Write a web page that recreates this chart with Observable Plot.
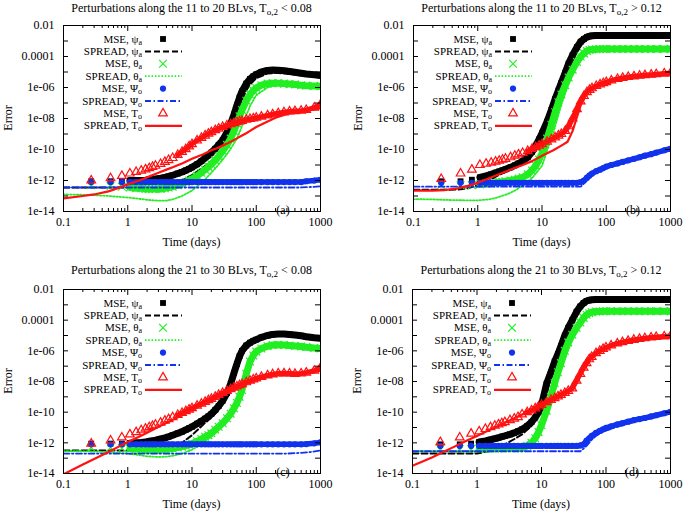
<!DOCTYPE html>
<html><head><meta charset="utf-8">
<script src="https://cdn.jsdelivr.net/npm/d3@7"></script>
<script src="https://cdn.jsdelivr.net/npm/@observablehq/plot@0.6"></script>
<style>
body{margin:0;background:#fff;}
#root{position:relative;width:685px;height:512px;overflow:hidden;background:#fff;}
#root svg{position:absolute;}
</style></head><body><div id="root"></div>
<script>
// ---------- axes ----------
const xTicks = [0.1, 1, 10, 100, 1000];
const xTickLabels = ["0.1", "1", "10", "100", "1000"];
const xMinorTicks = [0.2,0.3,0.4,0.5,0.6,0.7,0.8,0.9,2,3,4,5,6,7,8,9,20,30,40,50,60,70,80,90,200,300,400,500,600,700,800,900];
const yTicks = [1e-2, 1e-4, 1e-6, 1e-8, 1e-10, 1e-12, 1e-14];
const yTickLabels = ["0.01", "0.0001", "1e-06", "1e-08", "1e-10", "1e-12", "1e-14"];
const yDecades = [1e-2,1e-3,1e-4,1e-5,1e-6,1e-7,1e-8,1e-9,1e-10,1e-11,1e-12,1e-13,1e-14];

// ---------- titles / legend ----------
const panelBLVs = ["11 to 20", "11 to 20", "21 to 30", "21 to 30"];
const panelThreshold = ["< 0.08", "> 0.12", "< 0.08", "> 0.12"];
const panelLetters = ["(a)", "(b)", "(c)", "(d)"];
const legendLabels = ["MSE, \u03c8", "SPREAD, \u03c8", "MSE, \u03b8", "SPREAD, \u03b8", "MSE, \u03a8", "SPREAD, \u03a8", "MSE, T", "SPREAD, T"];
const legendSubs = ["a", "a", "a", "a", "o", "o", "o", "o"];

// ---------- sample times (days) ----------
const mseTimes = [0.27,0.54,0.81,1.08,1.35,1.62,1.89,2.16,2.43,2.7,3.24,3.78,4.32,5,6,7,8,9,10,12,14,16,18,20,23,26,30,35,40,45,50,55,60,70,80,90,100,120,150,180,220,270,330,400,500,600,800,1000];
const spreadTimes = [0.1,0.2,0.3,0.5,0.7,1,1.5,2,3,4,5,7,10,15,20,25,30,35,40,50,60,70,80,100,150,200,300,500,700,1000];

// ---------- values: log10(error) ----------
// panel (a)
const aMsePsiA = [-12.05,-12.05,-12.05,-12.0,-12.0,-12.0,-11.98,-11.95,-11.93,-11.9, -11.85,-11.8,-11.74,-11.66,-11.55,-11.45,-11.35,-11.25,-11.15, -10.95,-10.75,-10.55,-10.38,-10.2,-9.95,-9.7,-9.4,-8.9,-8.35, -7.75,-7.15,-6.65,-6.25,-5.75,-5.45,-5.28,-5.15, -5.0,-4.9,-4.87,-4.88,-4.92,-4.97,-5.02,-5.08,-5.13,-5.18,-5.22];
const aSprPsiA = [-12.45,-12.45,-12.45,-12.45,-12.45,-12.45,-12.45,-12.43,-12.4,-12.35,-12.25,-12.0,-11.65,-11.15,-10.75,-10.35,-9.95,-9.4,-8.8,-7.6,-6.8,-6.2,-5.8,-5.4,-5.1,-5.05,-5.1,-5.2,-5.25,-5.3];
const aMseThetaA = [-12.3,-12.35,-12.4,-12.45,-12.5,-12.5,-12.55,-12.55,-12.55,-12.55, -12.55,-12.5,-12.45,-12.4,-12.3,-12.2,-12.1,-12.0,-11.9, -11.7,-11.5,-11.3,-11.12,-10.95,-10.7,-10.45,-10.1,-9.7,-9.3, -8.8,-8.3,-7.85,-7.45,-6.85,-6.45,-6.2,-6.02, -5.85,-5.75,-5.72,-5.72,-5.75,-5.78,-5.8,-5.85,-5.88,-5.9,-5.92];
const aSprThetaA = [-12.9,-12.92,-12.95,-13.0,-13.05,-13.1,-13.18,-13.25,-13.3,-13.3,-13.22,-13.0,-12.65,-12.05,-11.5,-11.05,-10.65,-10.3,-9.95,-9.3,-8.5,-7.8,-7.2,-6.5,-6.0,-5.85,-5.85,-5.9,-5.95,-6.0];
const aMsePsiO = [-12.1,-12.1,-12.1,-12.1,-12.1,-12.1,-12.1,-12.1,-12.1,-12.1, -12.1,-12.1,-12.1,-12.1,-12.1,-12.1,-12.1,-12.1,-12.1, -12.1,-12.1,-12.1,-12.1,-12.1,-12.1,-12.1,-12.1,-12.1,-12.1, -12.1,-12.1,-12.1,-12.1,-12.1,-12.1,-12.1,-12.1, -12.1,-12.1,-12.1,-12.1,-12.1,-12.1,-12.1,-12.1,-12.05,-12.0,-11.95];
const aSprPsiO = [-12.45,-12.45,-12.45,-12.45,-12.45,-12.45,-12.45,-12.45,-12.45,-12.45,-12.45,-12.45,-12.45,-12.45,-12.45,-12.45,-12.45,-12.45,-12.45,-12.45,-12.45,-12.45,-12.45,-12.45,-12.45,-12.45,-12.45,-12.45,-12.42,-12.38];
const aMseTo = [-12.0,-11.85,-11.7,-11.55,-11.45,-11.36,-11.28,-11.2,-11.12,-11.05, -10.93,-10.8,-10.68,-10.55,-10.35,-10.15,-9.98,-9.8,-9.65, -9.42,-9.25,-9.1,-8.98,-8.88,-8.75,-8.65,-8.55,-8.45,-8.37, -8.3,-8.24,-8.19,-8.15,-8.08,-8.03,-7.99,-7.95, -7.88,-7.8,-7.73,-7.66,-7.6,-7.55,-7.52,-7.5,-7.45,-7.3,-7.1];
const aSprTo = [-13.15,-13.0,-12.9,-12.7,-12.5,-12.25,-12.0,-11.8,-11.5,-11.3,-11.15,-10.9,-10.6,-10.3,-10.05,-9.9,-9.75,-9.62,-9.5,-9.28,-9.1,-8.95,-8.8,-8.55,-8.2,-7.95,-7.7,-7.55,-7.45,-7.35];

// panel (b)
const bMsePsiA = [-12.05,-12.05,-11.95,-11.8,-11.7,-11.6,-11.5,-11.42,-11.35,-11.28, -11.15,-11.02,-10.9,-10.75,-10.5,-10.15,-9.75,-9.35,-8.95, -8.2,-7.45,-6.75,-6.2,-5.7,-5.05,-4.45,-3.9,-3.4,-3.05, -2.87,-2.75,-2.69,-2.66,-2.65,-2.65,-2.65,-2.65, -2.65,-2.65,-2.65,-2.65,-2.65,-2.65,-2.65,-2.65,-2.65,-2.65,-2.65];
const bSprPsiA = [-12.6,-12.6,-12.6,-12.58,-12.5,-12.3,-12.0,-11.7,-11.35,-11.1,-10.9,-10.3,-9.2,-7.0,-5.8,-4.8,-4.0,-3.45,-3.1,-2.75,-2.67,-2.65,-2.65,-2.65,-2.65,-2.65,-2.65,-2.65,-2.65,-2.65];
const bMseThetaA = [-12.3,-12.3,-12.3,-12.25,-12.2,-12.2,-12.15,-12.1,-12.1,-12.05, -12.0,-11.95,-11.88,-11.8,-11.6,-11.35,-11.05,-10.65,-10.25, -9.3,-8.4,-7.6,-6.95,-6.45,-5.85,-5.35,-4.85,-4.35,-4.0, -3.8,-3.65,-3.58,-3.55,-3.53,-3.52,-3.52,-3.52, -3.52,-3.52,-3.52,-3.52,-3.52,-3.52,-3.52,-3.52,-3.52,-3.52,-3.52];
const bSprThetaA = [-13.2,-13.22,-13.25,-13.27,-13.28,-13.28,-13.22,-13.1,-12.85,-12.6,-12.3,-11.85,-11.05,-8.9,-7.1,-5.95,-5.1,-4.55,-4.2,-3.75,-3.6,-3.55,-3.53,-3.52,-3.52,-3.52,-3.52,-3.52,-3.52,-3.52];
const bMsePsiO = [-12.15,-12.15,-12.15,-12.15,-12.15,-12.15,-12.15,-12.15,-12.15,-12.15, -12.15,-12.15,-12.15,-12.15,-12.15,-12.15,-12.15,-12.15,-12.15, -12.15,-12.15,-12.15,-12.15,-12.15,-12.15,-12.15,-12.15,-12.15,-12.1, -12.0,-11.82,-11.67,-11.55,-11.4,-11.3,-11.2,-11.1, -11.0,-10.9,-10.8,-10.7,-10.6,-10.5,-10.4,-10.3,-10.2,-10.05,-9.95];
const bSprPsiO = [-12.4,-12.4,-12.4,-12.4,-12.4,-12.4,-12.4,-12.4,-12.4,-12.4,-12.4,-12.4,-12.4,-12.4,-12.4,-12.4,-12.4,-12.4,-12.4,-12.0,-11.7,-11.5,-11.38,-11.2,-11.0,-10.85,-10.65,-10.4,-10.22,-10.05];
const bMseTo = [-11.9,-11.55,-11.3,-11.0,-10.92,-10.85,-10.78,-10.72,-10.66,-10.6, -10.5,-10.4,-10.32,-10.22,-10.1,-9.97,-9.85,-9.75,-9.65, -9.5,-9.35,-9.22,-9.1,-9.0,-8.8,-8.5,-8.0,-7.4,-6.9, -6.55,-6.3,-6.15,-6.05,-5.9,-5.8,-5.72,-5.65, -5.55,-5.45,-5.38,-5.32,-5.28,-5.24,-5.2,-5.17,-5.14,-5.1,-5.07];
const bSprTo = [-12.65,-12.65,-12.62,-12.5,-12.35,-12.15,-11.85,-11.65,-11.35,-11.15,-11.0,-10.75,-10.4,-10.05,-9.75,-9.5,-8.8,-7.9,-7.15,-6.4,-6.1,-5.95,-5.85,-5.7,-5.5,-5.4,-5.3,-5.2,-5.15,-5.1];

// panel (c)
const cMsePsiA = [-12.05,-12.05,-12.05,-12.02,-12.0,-11.98,-11.95,-11.9,-11.87,-11.83, -11.75,-11.68,-11.6,-11.5,-11.38,-11.27,-11.15,-11.05,-10.95, -10.75,-10.58,-10.42,-10.27,-10.12,-9.85,-9.6,-9.25,-8.75,-8.15, -7.45,-6.85,-6.35,-6.0,-5.65,-5.47,-5.35,-5.27, -5.12,-5.0,-4.93,-4.9,-4.9,-4.93,-4.97,-5.02,-5.08,-5.15,-5.18];
const cSprPsiA = [-12.5,-12.5,-12.5,-12.5,-12.5,-12.5,-12.5,-12.5,-12.5,-12.45,-12.35,-12.0,-11.5,-10.8,-10.35,-9.95,-9.5,-9.0,-8.4,-7.0,-6.1,-5.75,-5.55,-5.35,-5.05,-4.95,-4.95,-5.05,-5.12,-5.2];
const cMseThetaA = [-12.3,-12.3,-12.35,-12.38,-12.4,-12.42,-12.45,-12.45,-12.45,-12.45, -12.45,-12.42,-12.4,-12.37,-12.3,-12.25,-12.18,-12.12,-12.05, -11.9,-11.75,-11.6,-11.5,-11.38,-11.15,-10.95,-10.72,-10.4,-10.1, -9.75,-9.4,-9.0,-8.55,-7.5,-6.7,-6.3,-6.05, -5.85,-5.7,-5.62,-5.6,-5.62,-5.65,-5.68,-5.72,-5.76,-5.82,-5.85];
const cSprThetaA = [-12.55,-12.55,-12.57,-12.6,-12.65,-12.7,-12.8,-12.88,-12.92,-12.9,-12.85,-12.7,-12.45,-12.0,-11.6,-11.2,-10.9,-10.6,-10.3,-9.6,-8.8,-7.8,-7.0,-6.2,-5.8,-5.7,-5.7,-5.75,-5.8,-5.85];
const cMsePsiO = [-12.1,-12.1,-12.1,-12.1,-12.1,-12.1,-12.1,-12.1,-12.1,-12.1, -12.1,-12.1,-12.1,-12.1,-12.1,-12.1,-12.1,-12.1,-12.1, -12.1,-12.1,-12.1,-12.1,-12.1,-12.1,-12.1,-12.1,-12.1,-12.1, -12.1,-12.1,-12.1,-12.1,-12.1,-12.1,-12.1,-12.1, -12.1,-12.1,-12.1,-12.1,-12.1,-12.1,-12.1,-12.1,-12.08,-12.03,-11.97];
const cSprPsiO = [-12.7,-12.7,-12.7,-12.7,-12.7,-12.7,-12.7,-12.7,-12.7,-12.7,-12.7,-12.7,-12.7,-12.7,-12.7,-12.7,-12.7,-12.7,-12.7,-12.7,-12.7,-12.7,-12.7,-12.7,-12.7,-12.7,-12.7,-12.65,-12.6,-12.5];
const cMseTo = [-12.05,-11.85,-11.65,-11.45,-11.3,-11.18,-11.08,-10.98,-10.9,-10.82, -10.68,-10.55,-10.45,-10.33,-10.18,-10.05,-9.93,-9.83,-9.74, -9.58,-9.45,-9.33,-9.22,-9.13,-9.0,-8.88,-8.75,-8.62,-8.5, -8.4,-8.32,-8.24,-8.17,-8.05,-7.95,-7.87,-7.8, -7.7,-7.6,-7.53,-7.48,-7.47,-7.48,-7.5,-7.48,-7.42,-7.3,-7.1];
const cSprTo = [-14.05,-13.42,-13.05,-12.6,-12.28,-11.95,-11.6,-11.35,-10.95,-10.7,-10.5,-10.2,-9.85,-9.5,-9.25,-9.05,-8.9,-8.78,-8.65,-8.45,-8.3,-8.18,-8.08,-7.92,-7.7,-7.58,-7.52,-7.52,-7.45,-7.3];

// panel (d)
const dMsePsiA = [-12.1,-12.1,-12.05,-11.95,-11.88,-11.8,-11.73,-11.67,-11.6,-11.55, -11.45,-11.35,-11.25,-11.12,-10.9,-10.65,-10.35,-10.0,-9.55, -8.15,-7.4,-6.7,-6.2,-5.7,-5.0,-4.5,-4.0,-3.45,-3.1, -2.88,-2.75,-2.7,-2.67,-2.65,-2.65,-2.65,-2.65, -2.65,-2.65,-2.65,-2.65,-2.65,-2.65,-2.65,-2.65,-2.65,-2.65,-2.65];
const dSprPsiA = [-12.7,-12.7,-12.7,-12.7,-12.7,-12.7,-12.55,-12.35,-12.0,-11.7,-11.45,-10.9,-9.9,-7.3,-5.9,-4.9,-4.1,-3.5,-3.15,-2.78,-2.68,-2.65,-2.65,-2.65,-2.65,-2.65,-2.65,-2.65,-2.65,-2.65];
const dMseThetaA = [-12.4,-12.4,-12.4,-12.38,-12.38,-12.37,-12.37,-12.36,-12.36,-12.35, -12.35,-12.35,-12.35,-12.35,-12.2,-12.0,-11.7,-11.3,-10.85, -9.9,-9.0,-8.1,-7.4,-6.8,-6.0,-5.45,-4.95,-4.5,-4.15, -3.85,-3.65,-3.55,-3.48,-3.44,-3.43,-3.42,-3.42, -3.42,-3.42,-3.42,-3.42,-3.42,-3.42,-3.42,-3.42,-3.42,-3.42,-3.42];
const dSprThetaA = [-12.55,-12.55,-12.55,-12.55,-12.55,-12.55,-12.55,-12.55,-12.5,-12.35,-12.2,-11.8,-11.0,-8.8,-7.2,-6.1,-5.3,-4.8,-4.35,-3.8,-3.55,-3.47,-3.44,-3.42,-3.42,-3.42,-3.42,-3.42,-3.42,-3.42];
const dMsePsiO = [-12.2,-12.2,-12.2,-12.2,-12.2,-12.2,-12.2,-12.2,-12.2,-12.2, -12.2,-12.2,-12.2,-12.2,-12.2,-12.2,-12.2,-12.2,-12.2, -12.2,-12.2,-12.2,-12.2,-12.2,-12.2,-12.2,-12.2,-12.2,-12.17, -12.1,-11.85,-11.7,-11.55,-11.35,-11.22,-11.12,-11.03, -10.92,-10.8,-10.72,-10.62,-10.52,-10.45,-10.38,-10.28,-10.2,-10.07,-9.98];
const dSprPsiO = [-12.55,-12.55,-12.55,-12.55,-12.55,-12.55,-12.55,-12.55,-12.55,-12.55,-12.55,-12.55,-12.55,-12.55,-12.55,-12.55,-12.55,-12.55,-12.55,-12.2,-11.8,-11.55,-11.4,-11.2,-10.95,-10.8,-10.6,-10.4,-10.22,-10.05];
const dMseTo = [-11.95,-11.65,-11.4,-11.25,-11.1,-10.98,-10.88,-10.8,-10.72,-10.65, -10.52,-10.42,-10.32,-10.15,-10.0,-9.88,-9.75,-9.63,-9.52, -9.35,-9.2,-9.08,-8.97,-8.87,-8.75,-8.62,-8.45,-7.95,-7.5, -7.1,-6.8,-6.55,-6.4,-6.15,-6.0,-5.88,-5.78, -5.65,-5.52,-5.43,-5.35,-5.28,-5.22,-5.18,-5.13,-5.1,-5.06,-5.03];
const dSprTo = [-13.5,-12.95,-12.6,-12.15,-11.85,-11.55,-11.2,-10.95,-10.6,-10.35,-10.15,-9.85,-9.55,-9.2,-8.95,-8.7,-8.45,-8.0,-7.55,-6.85,-6.45,-6.2,-6.05,-5.82,-5.58,-5.45,-5.3,-5.17,-5.1,-5.05];

// ---------- styling ----------
const FONT = "Liberation Serif, Times New Roman, serif";
const C_BLACK = "#000000", C_GREEN = "#22ee22", C_BLUE = "#1133ee", C_RED = "#ff1111";
const seriesStyles = [
  {color: C_BLACK, symbol: "square",   r: 3.3, filled: true,  band: 7,   bandFrom: 1, dash: "6,3",           lw: 2},
  {color: C_GREEN, symbol: "times",    r: 3.6, filled: false, band: 7,   bandFrom: 1, dash: "1.5,1.8",       lw: 1.8},
  {color: C_BLUE,  symbol: "circle",   r: 3.1, filled: true,  band: 5.5, bandFrom: 1, dash: "6,2.5,1.5,2.5", lw: 1.8},
  {color: C_RED,   symbol: "triangle", r: 3.2, filled: false, band: 5,   bandFrom: 6, dash: null,            lw: 2.2}
];
const d3Symbols = {square: d3.symbolSquare, times: d3.symbolTimes, circle: d3.symbolCircle, triangle: d3.symbolTriangle};

const panels = [
  {left: 0,   top: 0,   width: 342, height: 256, mL: 63, mR: 22, mT: 25, mB: 45, titleGap: 13,
   mse: [aMsePsiA, aMseThetaA, aMsePsiO, aMseTo], spr: [aSprPsiA, aSprThetaA, aSprPsiO, aSprTo]},
  {left: 342, top: 0,   width: 343, height: 256, mL: 71, mR: 15, mT: 25, mB: 45, titleGap: 13,
   mse: [bMsePsiA, bMseThetaA, bMsePsiO, bMseTo], spr: [bSprPsiA, bSprThetaA, bSprPsiO, bSprTo]},
  {left: 0,   top: 256, width: 342, height: 256, mL: 63, mR: 22, mT: 33, mB: 39, titleGap: 15,
   mse: [cMsePsiA, cMseThetaA, cMsePsiO, cMseTo], spr: [cSprPsiA, cSprThetaA, cSprPsiO, cSprTo]},
  {left: 342, top: 256, width: 343, height: 256, mL: 70, mR: 15, mT: 33, mB: 39, titleGap: 15,
   mse: [dMsePsiA, dMseThetaA, dMsePsiO, dMseTo], spr: [dSprPsiA, dSprThetaA, dSprPsiO, dSprTo]}
];

const root = document.getElementById("root");

panels.forEach((p, pi) => {
  const W = p.width - p.mL - p.mR, H = p.height - p.mT - p.mB;
  const marks = [];
  seriesStyles.forEach((st, k) => {
    const mseRows = mseTimes.map((t, i) => ({t, v: Math.pow(10, p.mse[k][i])}));
    const sprRows = spreadTimes.map((t, i) => ({t, v: Math.pow(10, p.spr[k][i])}));
    marks.push(Plot.line(mseRows.filter(d => d.t >= st.bandFrom), {x: "t", y: "v", stroke: st.color, strokeWidth: st.band, strokeLinejoin: "round", strokeLinecap: "round", clip: true}));
    marks.push(Plot.dot(mseRows, st.filled
      ? {x: "t", y: "v", symbol: st.symbol, r: st.r, fill: st.color, stroke: "none", clip: true}
      : {x: "t", y: "v", symbol: st.symbol, r: st.r, fill: "none", stroke: st.color, strokeWidth: 1.2, clip: true}));
    marks.push(Plot.line(sprRows, {x: "t", y: "v", stroke: st.color, strokeWidth: st.lw, strokeDasharray: st.dash, clip: true}));
  });
  // inward gnuplot-style ticks on all four sides
  marks.push(Plot.tickX(xTicks, {insetTop: H - 6, stroke: "black"}));
  marks.push(Plot.tickX(xTicks, {insetBottom: H - 6, stroke: "black"}));
  marks.push(Plot.tickX(xMinorTicks, {insetTop: H - 3, stroke: "black"}));
  marks.push(Plot.tickX(xMinorTicks, {insetBottom: H - 3, stroke: "black"}));
  marks.push(Plot.tickY(yDecades, {insetRight: W - 5, stroke: "black"}));
  marks.push(Plot.tickY(yDecades, {insetLeft: W - 5, stroke: "black"}));
  marks.push(Plot.frame({stroke: "black", strokeWidth: 1}));
  // annotations: title, axis labels, panel letter, key
  marks.push(() => {
    const g = d3.create("svg:g").attr("font-family", FONT).attr("font-size", 12).attr("fill", "black");
    const cx = p.mL + W / 2;
    const t = g.append("text").attr("x", cx).attr("y", p.mT - p.titleGap).attr("text-anchor", "middle");
    t.append("tspan").text(`Perturbations along the ${panelBLVs[pi]} BLvs, T`);
    t.append("tspan").attr("font-size", 9).attr("dy", 3).text("o,2");
    t.append("tspan").attr("dy", -3).text(" " + panelThreshold[pi]);
    g.append("text").attr("x", cx).attr("y", p.mT + H + 35).attr("text-anchor", "middle").text("Time (days)");
    g.append("text").attr("transform", `translate(${p.mL - 51},${p.mT + H / 2}) rotate(-90)`).attr("text-anchor", "middle").text("Error");
    g.append("text").attr("x", p.mL + 220).attr("y", p.mT + H + 3).attr("text-anchor", "middle").text(panelLetters[pi]);
    legendLabels.forEach((lab, i) => {
      const st = seriesStyles[Math.floor(i / 2)];
      const yc = p.mT + 14 + i * 12.4;
      const tx = g.append("text").attr("x", p.mL + 79).attr("y", yc + 3.5).attr("text-anchor", "end").attr("font-size", 11);
      tx.append("tspan").text(lab);
      tx.append("tspan").attr("font-size", 8).attr("dy", 2).text(legendSubs[i]);
      if (i % 2 === 0) {
        const sym = g.append("path").attr("transform", `translate(${p.mL + 100},${yc})`)
          .attr("d", d3.symbol(d3Symbols[st.symbol], Math.PI * st.r * st.r)());
        if (st.filled) sym.attr("fill", st.color); else sym.attr("fill", "none").attr("stroke", st.color).attr("stroke-width", 1.2);
      } else {
        const ln = g.append("line").attr("x1", p.mL + 82).attr("x2", p.mL + 119).attr("y1", yc).attr("y2", yc)
          .attr("stroke", st.color).attr("stroke-width", st.lw);
        if (st.dash) ln.attr("stroke-dasharray", st.dash);
      }
    });
    return g.node();
  });
  const svg = Plot.plot({
    width: p.width, height: p.height,
    marginLeft: p.mL, marginRight: p.mR, marginTop: p.mT, marginBottom: p.mB,
    style: {fontFamily: FONT, fontSize: "12px", background: "white", color: "black", overflow: "visible"},
    x: {type: "log", domain: [0.1, 1000], ticks: xTicks, tickFormat: d => xTickLabels[xTicks.indexOf(d)], tickSize: 0, tickPadding: 6, label: null},
    y: {type: "log", domain: [1e-14, 1e-2], ticks: yTicks, tickFormat: d => yTickLabels[yTicks.indexOf(d)], tickSize: 0, tickPadding: 9, label: null},
    marks
  });
  svg.style.left = p.left + "px";
  svg.style.top = p.top + "px";
  root.appendChild(svg);
});
</script></body></html>
